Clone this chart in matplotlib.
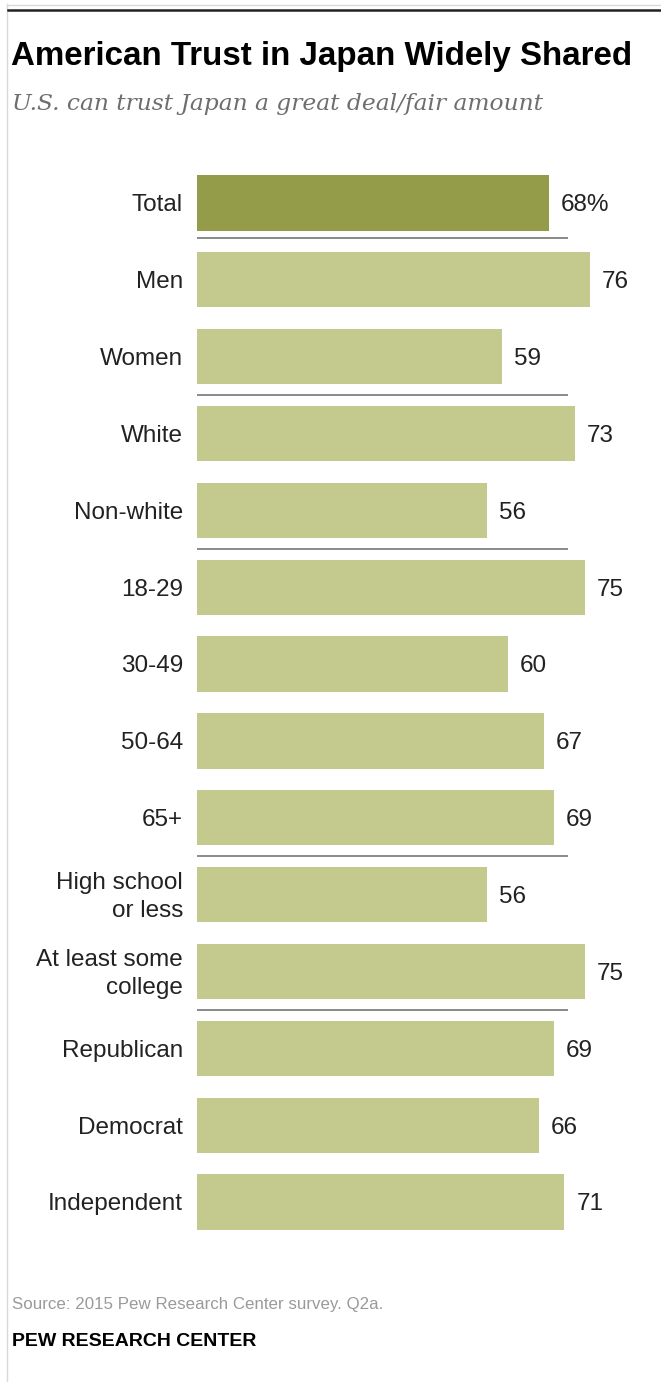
import matplotlib
matplotlib.use("Agg")
import matplotlib.pyplot as plt
from matplotlib.lines import Line2D

# Survey results: share saying the U.S. can trust Japan a great deal/fair amount
categories = ["Total", "Men", "Women", "White", "Non-white", "18-29", "30-49",
              "50-64", "65+", "High school\nor less", "At least some\ncollege",
              "Republican", "Democrat", "Independent"]
values = [68, 76, 59, 73, 56, 75, 60, 67, 69, 56, 75, 69, 66, 71]
value_labels = ["68%", "76", "59", "73", "56", "75", "60", "67", "69", "56",
                "75", "69", "66", "71"]
# rules are drawn below these rows to separate demographic groups
group_ends = [0, 2, 4, 8, 10]

title = "American Trust in Japan Widely Shared"
subtitle = "U.S. can trust Japan a great deal/fair amount"
source = "Source: 2015 Pew Research Center survey. Q2a."
credit = "PEW RESEARCH CENTER"

W, H = 661, 1382
fig = plt.figure(figsize=(W / 100, H / 100), dpi=100)
fig.patch.set_facecolor("white")

def fx(px):
    return px / W

def fy(py):
    return 1 - py / H

# frame: thin grey rule on the left, dark rule across the top
fig.add_artist(Line2D([fx(7), fx(7)], [fy(4), fy(1382)], color="#d9d9d9", lw=1.0))
fig.add_artist(Line2D([fx(7), fx(661)], [fy(4.5), fy(4.5)], color="#d9d9d9", lw=1.0))
fig.add_artist(Line2D([fx(8), fx(661)], [fy(10), fy(10)], color="#222222", lw=1.8))

sans = ["Liberation Sans", "DejaVu Sans"]

fig.text(fx(11), fy(57), title, fontsize=23.9, fontweight="bold", family=sans,
         color="black", va="center", ha="left")
fig.text(fx(12), fy(104), subtitle, fontsize=16.8, style="italic",
         family=["DejaVu Serif"], color="#6e6e6e",
         va="center", ha="left")

# bar panel
left_px, right_px = 197, 611
top_px, bot_px = 164.5, 1240.5
ax = fig.add_axes([fx(left_px), fy(bot_px), fx(right_px - left_px),
                   (bot_px - top_px) / H])
n = len(categories)
ys = list(range(n))
colors = ["#949c4a"] + ["#c4ca8e"] * (n - 1)
ax.barh(ys, values, height=0.72, color=colors, edgecolor="none")
ax.set_xlim(0, 80)
ax.set_ylim(n - 0.5, -0.5)
ax.axis("off")

for y, v, lab, cat in zip(ys, values, value_labels, categories):
    ax.text(v + 2.3, y + 0.03, lab, fontsize=17.5, family=sans, color="#222222",
            va="center", ha="left")
    ax.text(-2.7, y + 0.03, cat, fontsize=17.5, family=sans, color="#222222",
            va="center", ha="right", linespacing=1.32, clip_on=False)

for g in group_ends:
    yy = g + 0.5 - (0.04 if g == 0 else 0)
    ax.plot([0, 71.7], [yy, yy], color="#8a8a8a", lw=1.4, solid_capstyle="butt")

fig.text(fx(12), fy(1304), source, fontsize=12.2, family=sans, color="#9a9a9a",
         va="center", ha="left")
fig.text(fx(12), fy(1342), credit, fontsize=14, fontweight="bold", family=sans,
         color="black", va="center", ha="left")

fig.savefig("out.png", dpi=100, facecolor="white")
